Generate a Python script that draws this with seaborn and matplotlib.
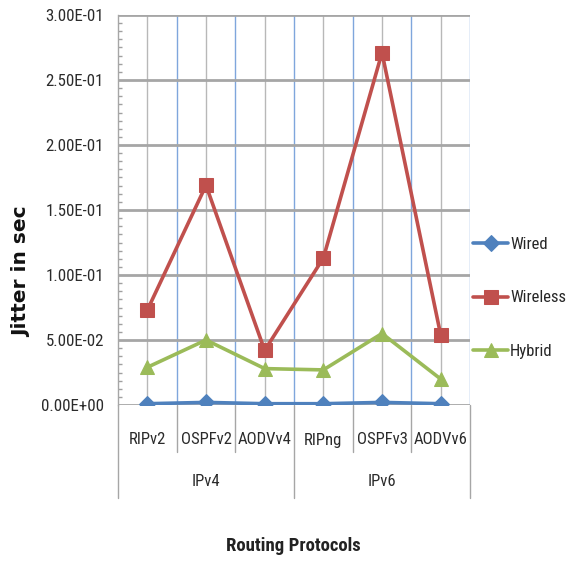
import matplotlib
matplotlib.use("Agg")
import matplotlib.pyplot as plt
from matplotlib import font_manager
from matplotlib.ticker import MultipleLocator, FuncFormatter
import seaborn as sns
import pandas as pd

# Routing protocols, grouped by IP version
protocols = ["RIPv2", "OSPFv2", "AODVv4", "RIPng", "OSPFv3", "AODVv6"]
groups = ["IPv4", "IPv6"]
group_sizes = [3, 3]

# Jitter (seconds) per network type
wired = [0.001, 0.002, 0.001, 0.001, 0.002, 0.001]
wireless = [0.073, 0.169, 0.042, 0.113, 0.271, 0.054]
hybrid = [0.029, 0.050, 0.028, 0.027, 0.055, 0.020]

series_names = ["Wired", "Wireless", "Hybrid"]
y_ticks = [0.0, 0.05, 0.10, 0.15, 0.20, 0.25, 0.30]

sns.set_theme(style="white")
available = {f.name for f in font_manager.fontManager.ttflist}
preferred = ["Roboto Condensed", "Liberation Sans Narrow", "Open Sans Condensed",
             "Liberation Sans", "DejaVu Sans"]
plt.rcParams["font.family"] = [f for f in preferred if f in available] or ["DejaVu Sans"]
condensed = plt.rcParams["font.family"][0] in ("Roboto Condensed", "Liberation Sans Narrow",
                                                "Open Sans Condensed")
fs = 11.5 if condensed else 10.3

rows = []
for name, vals in zip(series_names, [wired, wireless, hybrid]):
    for i, (p, v) in enumerate(zip(protocols, vals)):
        rows.append({"pos": i, "protocol": p, "network": name, "jitter": v})
df = pd.DataFrame(rows)

fig = plt.figure(figsize=(5.71, 5.61), dpi=100)
ax = fig.add_axes([118 / 571, 1 - 405 / 561, 352 / 571, 390 / 561])

palette = {"Wired": "#4F81BD", "Wireless": "#C0504D", "Hybrid": "#9BBB59"}
markers = {"Wired": "D", "Wireless": "s", "Hybrid": "^"}
sizes = {"Wired": 8, "Wireless": 9.5, "Hybrid": 10}

for name in series_names:
    sub = df[df["network"] == name]
    sns.lineplot(data=sub, x="pos", y="jitter", ax=ax, color=palette[name],
                 marker=markers[name], markersize=sizes[name], linewidth=2.6,
                 markeredgecolor=palette[name], label=name, zorder=5)

ax.set_xlim(-0.5, len(protocols) - 0.5)
ax.set_ylim(0, 0.30)

# gridlines: gray at category centres, blue at category boundaries
for i in range(len(protocols)):
    ax.axvline(i, color="#b8b8b8", lw=1.0, zorder=1)
for i in range(1, len(protocols) + 1):
    ax.axvline(i - 0.5, color="#7fa6dc", lw=1.0, zorder=1)
for y in y_ticks:
    ax.axhline(y, color="#a6a6a6", lw=2.0, zorder=1)

ax.set_yticks(y_ticks)
ax.yaxis.set_major_formatter(FuncFormatter(lambda v, _: f"{v:.2E}"))
ax.yaxis.set_minor_locator(MultipleLocator(0.05 / 8))
ax.tick_params(axis="y", which="minor", length=3, direction="in", color="#a0a0a0", left=True)
ax.tick_params(axis="y", which="major", length=0, labelsize=fs + 0.7, labelcolor="#2b2b2b", pad=10)
ax.set_xticks([])
ax.set_xlabel("")
ax.set_ylabel("")
for s in ["top", "right", "bottom"]:
    ax.spines[s].set_visible(False)
ax.spines["left"].set_color("#a6a6a6")
ax.spines["left"].set_linewidth(1.0)

# two-level category axis below the plot
trans = ax.get_xaxis_transform()
h_short = (452 - 405) / 390
h_full = (498 - 405) / 390
boundaries = [-0.5]
acc = -0.5
for n in group_sizes:
    acc += n
    boundaries.append(acc)
for b in [i - 0.5 for i in range(len(protocols) + 1)]:
    h = h_full if b in boundaries else h_short
    ax.plot([b, b], [0, -h], transform=trans, color="#a6a6a6", lw=1.0, clip_on=False)
for i, p in enumerate(protocols):
    ax.text(i, -(440 - 405) / 390, p, transform=trans, ha="center", va="center",
            fontsize=fs + 0.5, color="#2b2b2b")
start = 0
for g, n in zip(groups, group_sizes):
    ax.text(start + (n - 1) / 2, -(482 - 405) / 390, g, transform=trans,
            ha="center", va="center", fontsize=fs + 0.5, color="#2b2b2b")
    start += n

fig.text(293 / 571, 1 - 546 / 561, "Routing Protocols", ha="center", va="center",
         fontsize=fs + 2.0, fontweight="bold", color="#222222")
fig.text(22 / 571, 1 - 272 / 561, "Jitter in sec", ha="center", va="center",
         rotation=90, fontsize=14.5, fontweight="bold", color="#111111",
         family=["DejaVu Sans"])

ax.get_legend().remove()
handles, labels = ax.get_legend_handles_labels()
fig.legend(handles, labels, loc="center left", bbox_to_anchor=(473 / 571, 1 - 298 / 561),
           frameon=False, fontsize=fs + 0.5, handlelength=2.1, handletextpad=0.12,
           labelspacing=2.3, borderaxespad=0, borderpad=0)

fig.savefig("out.png", dpi=100)
